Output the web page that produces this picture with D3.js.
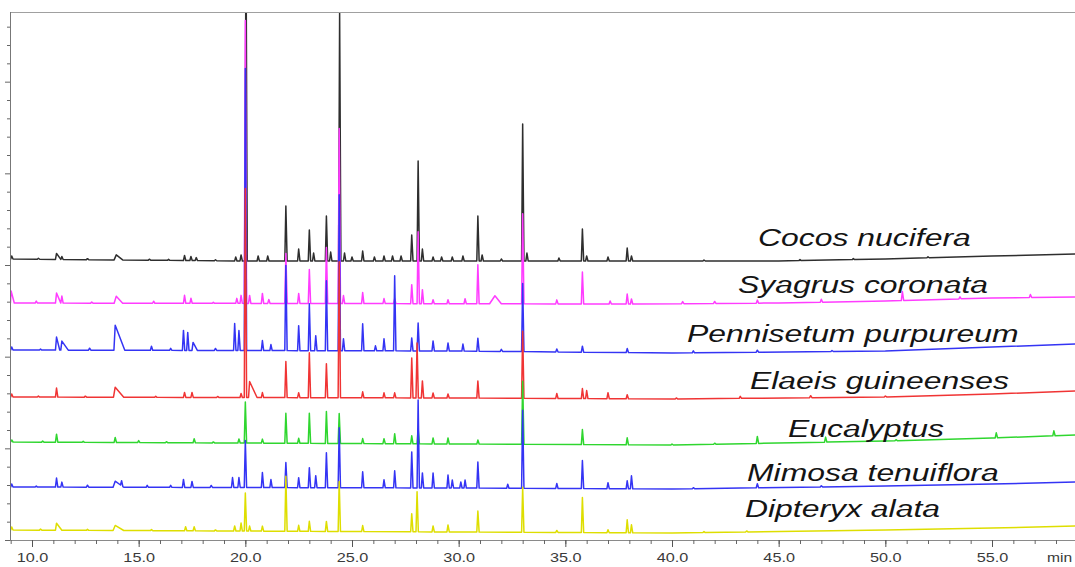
<!DOCTYPE html>
<html>
<head>
<meta charset="utf-8">
<script src="https://cdn.jsdelivr.net/npm/d3@7/dist/d3.min.js"></script>
<style>
  body { margin: 0; background: #fff; }
  svg { display: block; font-family: "Liberation Sans", Arial, sans-serif; }
</style>
</head>
<body>
<div id="chart"></div>
<script>
// ---- data ----
// retention time ticks (min)
var timeMajor = [10, 15, 20, 25, 30, 35, 40, 45, 50, 55];
var timeLabels = ["10.0", "15.0", "20.0", "25.0", "30.0", "35.0", "40.0", "45.0", "50.0", "55.0"];
var timeMinor = d3.range(9, 59);

// samples, top trace to bottom trace
var samples = ["Cocos nucifera", "Syagrus coronata", "Pennisetum purpureum", "Elaeis guineenses",
               "Eucalyptus", "Mimosa tenuiflora", "Dipteryx alata"];
// stacking offset of each baseline (signal units)
var offsets = [279, 236, 190, 143, 96, 52, 8];

// baseline drift readings [time, shift]
var driftCocos = [[9, 2], [20, 0], [45, 0], [50, 2], [55, 5], [59, 7]];
var driftSyagrus = [[9, 1], [38, 0], [45, 1], [50, 3], [55, 6], [59, 7]];
var driftPennisetum = [[9, 0], [30, -1], [40, -3], [50, -1], [55, 3], [59, 6]];
var driftElaeis = [[9, 0], [30, -1], [40, -2], [50, 0], [55, 3], [59, 6]];
var driftEucalyptus = [[9, 2], [30, 0], [40, -1], [50, 3], [55, 6], [59, 9]];
var driftMimosa = [[9, 1], [30, 0], [40, -1], [50, 2], [55, 4], [59, 6]];
var driftDipteryx = [[9, 2], [30, 0], [40, -1], [50, 2], [55, 4], [59, 6]];

// peaks [time, height, left width, right width]
var peaksCocos = [[9.05,3],[10.3,1],[11.15,6,0.05,0.2],[11.4,3],[12.6,1],[13.95,5,0.1,0.3],[15.5,1],
  [16.4,1],[17.15,5],[17.45,4],[17.7,3],[18.6,1],[19.55,4],[19.8,6],[20.03,330],[20.6,5],[21.05,5],
  [21.9,55],[22.5,12],[23.0,31],[23.2,8],[23.8,45],[24.0,9],[24.42,248],[24.65,8],[25.0,4],[25.5,10],
  [26.05,4],[26.5,5],[26.9,5],[27.3,5],[27.8,26],[28.1,100],[28.3,12],[28.8,4],[29.2,4],[29.7,4],
  [30.2,5],[30.9,45],[31.1,6],[32.0,2],[33.0,137],[33.2,8],[34.7,3],[35.8,32],[36.0,5],[37.0,4],
  [37.9,13],[38.1,5],[41.5,1],[46.0,1],[48.5,1],[52.0,1]];
var peaksSyagrus = [[9.02,12,0.03,0.15],[10.2,2],[11.15,10,0.05,0.2],[11.4,7],[12.8,1],[13.95,7,0.1,0.3],
  [15.7,2],[17.15,8],[17.45,5],[18.5,1],[19.6,5],[19.8,8],[20.0,283],[20.2,8],[20.8,10],[21.1,4],
  [21.9,50],[22.5,10],[23.0,34],[23.8,56],[24.4,175],[24.6,8],[25.5,11],[26.5,5],[27.0,5],[27.8,19],
  [28.1,72],[28.3,14],[28.8,4],[29.5,4],[30.3,5],[30.9,39],[31.7,8,0.25,0.3],[33.0,90],[34.6,4],
  [35.8,32],[37.1,3],[37.9,10],[38.1,5],[40.5,2],[42.0,2],[44.0,3],[47.0,3],[50.8,9],[53.5,2],[56.8,3]];
var peaksPennisetum = [[9.05,3],[10.4,1],[11.15,13,0.05,0.15],[11.4,9,0.05,0.3],[12.7,2],
  [13.9,25,0.06,0.45],[15.6,4],[16.5,2],[17.1,20],[17.3,18],[17.55,8,0.05,0.2],[18.6,2],[19.5,27],
  [19.7,20],[20.0,282],[20.8,10],[21.2,6],[21.9,85],[22.5,25],[23.0,47],[23.3,15],[23.8,70],[24.4,156],
  [24.6,12],[25.5,27],[26.1,5],[26.5,12],[27.0,75],[27.8,13],[28.1,28],[28.8,10],[29.5,8],[30.2,7],
  [30.9,13],[32.0,2],[33.0,68],[34.6,3],[35.8,6],[37.9,4],[41.0,2],[44.0,2],[47.5,1]];
var peaksElaeis = [[9.05,3],[10.3,1],[11.15,9],[12.5,1],[13.9,10,0.08,0.4],[15.8,1],[17.15,5],[17.5,5],
  [18.7,1],[19.8,4],[20.0,209],[20.2,16,0.05,0.35],[20.8,5],[21.9,36],[22.5,5],[23.0,45],[23.8,34],
  [24.4,136],[25.5,6],[26.5,5],[27.0,5],[27.8,40],[28.05,55],[28.3,17],[28.8,5],[29.5,4],[30.9,17],
  [33.0,67],[34.6,5],[35.8,10],[36.0,8],[37.0,6],[37.9,4],[40.2,1],[43.2,2],[46.5,2],[50.0,1]];
var peaksEucalyptus = [[9.05,2],[10.5,1],[11.15,8],[12.4,1],[13.9,5],[15.0,2],[16.3,1],[17.6,4],
  [18.5,1],[19.7,4],[20.0,41],[20.8,4],[21.9,30],[22.5,5],[23.0,30],[23.8,32],[24.4,30],[25.5,5],
  [26.5,5],[27.0,10],[27.8,8],[28.1,15],[28.8,6],[29.5,6],[30.9,4],[33.0,63],[35.8,15],[37.9,7],
  [40.0,1],[42.0,1],[44.0,7],[47.2,5],[50.5,1],[55.2,5],[57.9,5]];
var peaksMimosa = [[9.05,3],[10.2,1],[11.15,9],[11.4,5],[12.6,2],[13.9,6,0.1,0.4],[14.2,5],[15.4,2],
  [16.5,2],[17.1,8],[17.5,6],[18.4,2],[19.4,10],[19.7,10],[20.0,47],[20.8,15],[21.2,8],[21.9,25],
  [22.5,10],[23.0,20],[23.3,12],[23.8,35],[24.4,60],[25.5,16],[26.5,8],[27.0,17],[27.8,36],[28.1,88],
  [28.3,15],[28.8,15],[29.5,13],[29.7,8],[30.1,6],[30.3,8],[30.9,26],[32.3,4],[33.0,78],[34.6,5],
  [35.8,28],[37.0,6],[37.9,8],[38.1,13],[41.0,1],[44.0,4],[47.0,1]];
var peaksDipteryx = [[9.05,3],[10.4,1],[11.15,7,0.05,0.25],[12.6,1],[13.9,5,0.1,0.4],[15.6,1],[17.2,4],
  [17.6,4],[18.6,1],[19.5,5],[19.8,8],[20.0,38],[20.2,5],[20.8,5],[21.9,55],[22.5,6],[23.0,10],
  [23.8,10],[24.4,50],[25.5,6],[27.8,18],[28.05,40],[28.8,6],[29.5,7],[30.9,21],[33.0,45],[34.6,2],
  [35.8,35],[37.0,3],[37.9,13],[38.1,8],[41.5,1],[43.5,1]];

var drifts = [driftCocos, driftSyagrus, driftPennisetum, driftElaeis, driftEucalyptus, driftMimosa, driftDipteryx];
var peaks = [peaksCocos, peaksSyagrus, peaksPennisetum, peaksElaeis, peaksEucalyptus, peaksMimosa, peaksDipteryx];

// ---- layout ----
var colors = ["#2e2e2e", "#ff3cff", "#3434f4", "#f03434", "#2fd62f", "#3434f4", "#dede00"];
var labelPos = [[758, 246], [738, 293], [687, 342], [750, 389], [788, 437], [747, 481], [745, 517]];
var W = 1075, H = 567;
var plot = {left: 10, top: 12, bottom: 540, right: 1075};

var svg = d3.select("#chart").append("svg")
    .attr("width", W)
    .attr("height", H);

var x = d3.scaleLinear().domain([10, 55]).range([32, 992]);
var y = d3.scaleLinear().domain([0, 528]).range([plot.bottom, plot.top]);

svg.append("clipPath").attr("id", "clip")
  .append("rect")
    .attr("x", plot.left).attr("y", plot.top)
    .attr("width", plot.right - plot.left).attr("height", plot.bottom - plot.top);

// build one trace: baseline drift plus triangular peaks, evaluated at every breakpoint
function buildTrace(drift, pk) {
    var base = d3.scaleLinear()
        .domain(drift.map(function(d) { return d[0]; }))
        .range(drift.map(function(d) { return d[1]; }))
        .clamp(true);
    var ts = [8.9, 59.5];
    drift.forEach(function(d) { ts.push(d[0]); });
    pk.forEach(function(p) {
        var wl = p[2] || 0.05, wr = p[3] || 0.06;
        ts.push(p[0] - wl, p[0], p[0] + wr);
    });
    ts = Array.from(new Set(ts)).sort(d3.ascending);
    return ts.map(function(t) {
        var v = base(t);
        pk.forEach(function(p) {
            var wl = p[2] || 0.05, wr = p[3] || 0.06;
            if (t >= p[0] - wl && t <= p[0]) v += p[1] * (1 - (p[0] - t) / wl);
            else if (t > p[0] && t <= p[0] + wr) v += p[1] * (1 - (t - p[0]) / wr);
        });
        return [t, v];
    });
}

var g = svg.append("g").attr("clip-path", "url(#clip)");

samples.forEach(function(name, i) {
    var pts = buildTrace(drifts[i], peaks[i]);
    var line = d3.line()
        .x(function(d) { return x(d[0]); })
        .y(function(d) { return y(offsets[i] + d[1]); });
    g.append("path")
        .datum(pts)
        .attr("fill", "none")
        .attr("stroke", colors[i])
        .attr("stroke-width", 1.5)
        .attr("stroke-linejoin", "round")
        .attr("d", line);
});

// frame: top border
svg.append("line")
    .attr("x1", plot.left).attr("x2", plot.right)
    .attr("y1", plot.top + 0.5).attr("y2", plot.top + 0.5)
    .attr("stroke", "#a0a0a0");

// bottom axis - minor ticks
var xMinor = svg.append("g")
    .attr("transform", "translate(0," + plot.bottom + ")")
    .call(d3.axisBottom(x).tickValues(timeMinor).tickSize(4).tickFormat(""));
xMinor.select(".domain").attr("d", "M" + plot.left + ",0.5H" + plot.right).attr("stroke", "#8a8a8a");
xMinor.selectAll(".tick line").attr("stroke", "#666");

// bottom axis - labelled ticks
var xMajor = svg.append("g")
    .attr("transform", "translate(0," + plot.bottom + ")")
    .call(d3.axisBottom(x).tickValues(timeMajor).tickSize(7)
        .tickFormat(function(d, i) { return timeLabels[i]; }));
xMajor.select(".domain").remove();
xMajor.selectAll(".tick line").attr("stroke", "#555");
xMajor.selectAll(".tick text")
    .attr("y", 22).attr("dy", 0)
    .attr("transform", "scale(1.3,1)")
    .attr("fill", "#3a3a3a")
    .style("font-size", "12.5px")
    .style("font-family", "'Liberation Sans', Arial, sans-serif");

svg.append("text")
    .attr("transform", "translate(1047," + (plot.bottom + 22) + ") scale(1.25,1)")
    .attr("fill", "#3a3a3a")
    .style("font-size", "12.5px")
    .text("min");

// left axis (no labels)
var yTicks = d3.range(0, 29).map(function(k) { return k * 528 / 28.8; });
var yAx = svg.append("g")
    .attr("transform", "translate(" + plot.left + ",0)")
    .call(d3.axisLeft(y).tickValues(yTicks).tickSize(3).tickFormat(""));
yAx.select(".domain").attr("d", "M0.5," + plot.top + "V" + plot.bottom).attr("stroke", "#777");
yAx.selectAll(".tick line")
    .attr("stroke", "#666")
    .attr("x2", function(d, i) { return i % 5 === 0 ? -5 : -3; });

// sample names
svg.append("g").selectAll("text")
    .data(samples)
    .enter().append("text")
    .attr("transform", function(d, i) {
        return "translate(" + labelPos[i][0] + "," + labelPos[i][1] + ") scale(1.33,1)";
    })
    .attr("fill", "#141414")
    .style("font-size", "24px")
    .style("font-style", "italic")
    .text(function(d) { return d; });
</script>
</body>
</html>
